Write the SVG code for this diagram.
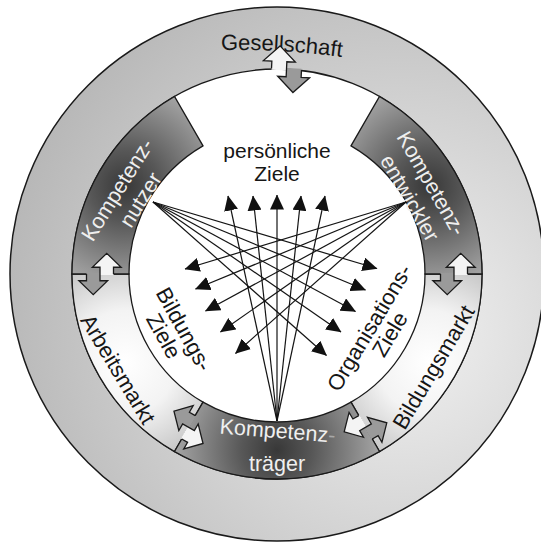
<svg xmlns="http://www.w3.org/2000/svg" width="541" height="545" viewBox="0 0 541 545">
<style>
.t{font-family:"Liberation Sans",Arial,Helvetica,sans-serif;font-size:22px;fill:#161616}
.w{font-family:"Liberation Sans",Arial,Helvetica,sans-serif;font-size:21.5px;fill:#efefef}
.ol{fill:none;stroke:#1a1a1a;stroke-width:1.3}
.lite{fill:#f4f4f4}
.dk{fill:#9a9a9a}
.link{fill:none;stroke:#141414;stroke-width:1.2;marker-end:url(#ah)}
</style>
<defs>
<radialGradient id="gOut" gradientUnits="userSpaceOnUse" cx="400" cy="330" r="400"><stop offset="0" stop-color="#f2f2f2"/><stop offset="1" stop-color="#b8b8b8"/></radialGradient>
<radialGradient id="gN" gradientUnits="userSpaceOnUse" cx="125" cy="186" r="100"><stop offset="0" stop-color="#383838"/><stop offset="0.35" stop-color="#575757"/><stop offset="1" stop-color="#a2a2a2"/></radialGradient>
<radialGradient id="gE" gradientUnits="userSpaceOnUse" cx="429" cy="186" r="100"><stop offset="0" stop-color="#383838"/><stop offset="0.35" stop-color="#575757"/><stop offset="1" stop-color="#a2a2a2"/></radialGradient>
<radialGradient id="gT" gradientUnits="userSpaceOnUse" cx="277" cy="450" r="100"><stop offset="0" stop-color="#383838"/><stop offset="0.35" stop-color="#575757"/><stop offset="1" stop-color="#a2a2a2"/></radialGradient>
<radialGradient id="gA" gradientUnits="userSpaceOnUse" cx="125" cy="362" r="115"><stop offset="0" stop-color="#ffffff"/><stop offset="0.45" stop-color="#f3f3f3"/><stop offset="1" stop-color="#bcbcbc"/></radialGradient>
<radialGradient id="gB" gradientUnits="userSpaceOnUse" cx="429" cy="362" r="115"><stop offset="0" stop-color="#ffffff"/><stop offset="0.45" stop-color="#f3f3f3"/><stop offset="1" stop-color="#bcbcbc"/></radialGradient>
<marker id="ah" markerUnits="userSpaceOnUse" markerWidth="15" markerHeight="14" viewBox="0 0 15 14" refX="14.5" refY="7" orient="auto"><path d="M0,0L15,7L0,14Z" fill="#111"/></marker>
<path id="xa" d="M-15,1.2V-7.5H-23.5L-7.5,-23L8.5,-7.5H0V1.2Z"/>
<path id="xb" d="M0,-1.2V7.5H-8.5L7.5,23L23.5,7.5H15V-1.2Z"/>
<path id="xo" vector-effect="non-scaling-stroke" d="M-15,0V-7.5H-23.5L-7.5,-23L8.5,-7.5H0V7.5H-8.5L7.5,23L23.5,7.5H15V0"/>
</defs>

<g id="gesellschaft">
<circle cx="277" cy="274" r="267" fill="url(#gOut)" stroke="#1a1a1a" stroke-width="1.5"/>
<path id="gesPath" d="M221,50 Q285,49 350,58" fill="none"/>
<text class="t"><textPath href="#gesPath">Gesellschaft</textPath></text>
</g>

<g id="inner-area">
<circle cx="277" cy="274" r="205" class="ol" style="fill:#ffffff"/>
</g>

<g id="arbeitsmarkt">
<path d="M72,274 A205,205 0 0 0 174.5,451.53 L203,402.17 A148,148 0 0 1 129,274 Z" class="ol" style="fill:url(#gA)"/>
<text class="t" transform="translate(117.5,369.5) rotate(59)" text-anchor="middle" y="7">Arbeitsmarkt</text>
</g>

<g id="bildungsmarkt">
<path d="M482,274 A205,205 0 0 1 379.5,451.53 L351,402.17 A148,148 0 0 0 425,274 Z" class="ol" style="fill:url(#gB)"/>
<text class="t" transform="translate(434,367.5) rotate(-59.5)" text-anchor="middle" y="7">Bildungsmarkt</text>
</g>

<g id="kompetenznutzer">
<path d="M174.5,96.47 A205,205 0 0 0 72,274 L129,274 A148,148 0 0 1 203,145.83 Z" class="ol" style="fill:url(#gN)"/>
<g transform="translate(117.5,190) rotate(-58)">
<text class="w" text-anchor="middle" y="7">Kompetenz-</text>
<text class="w" text-anchor="middle" x="4" y="32">nutzer</text>
</g>
</g>

<g id="kompetenzentwickler">
<path d="M379.5,96.47 A205,205 0 0 1 482,274 L425,274 A148,148 0 0 0 351,145.83 Z" class="ol" style="fill:url(#gE)"/>
<g transform="translate(431,183.5) rotate(60)">
<text class="w" text-anchor="middle" y="7">Kompetenz-</text>
<text class="w" text-anchor="middle" x="2" y="33">entwickler</text>
</g>
</g>

<g id="kompetenztraeger">
<path d="M174.5,451.53 A205,205 0 0 0 379.5,451.53 L351,402.17 A148,148 0 0 1 203,402.17 Z" class="ol" style="fill:url(#gT)"/>
<text class="w" text-anchor="middle" transform="rotate(4.5 277 438)" x="277" y="438">Kompetenz<tspan fill="#a8a8a8">-</tspan></text>
<text class="w" text-anchor="middle" x="277" y="471">träger</text>
</g>

<g id="exchange">
<g transform="translate(286.5,69.22) rotate(2.66)"><use href="#xa" class="lite"/><use href="#xb" class="dk"/><use href="#xo" class="ol"/></g>
<g transform="matrix(-1,0,0,1,100,274) scale(0.9)"><use href="#xa" class="lite"/><use href="#xb" class="dk"/><use href="#xo" class="ol"/></g>
<g transform="matrix(1,0,0,-1,454,274) scale(0.9)"><use href="#xa" class="dk"/><use href="#xb" class="lite"/><use href="#xo" class="ol"/></g>
<g transform="matrix(-0.5,0.866,0.866,0.5,188.5,427.29) scale(0.9)"><use href="#xa" class="dk"/><use href="#xb" class="lite"/><use href="#xo" class="ol"/></g>
<g transform="matrix(0.5,0.866,0.866,-0.5,365.5,427.29) scale(0.9)"><use href="#xa" class="lite"/><use href="#xb" class="dk"/><use href="#xo" class="ol"/></g>
</g>

<g id="persoenliche-ziele">
<text class="t" text-anchor="middle" x="277" y="158" style="font-size:21px">persönliche</text>
<text class="t" text-anchor="middle" x="277" y="181" style="font-size:21px">Ziele</text>
</g>

<g id="bildungs-ziele">
<g transform="translate(183.5,329.5) rotate(61)">
<text class="t" text-anchor="middle" y="7">Bildungs-</text>
<text class="t" text-anchor="middle" x="-4" y="28">Ziele</text>
</g>
</g>

<g id="organisations-ziele">
<g transform="translate(369.8,328) rotate(-59)">
<text class="t" text-anchor="middle" y="7">Organisations-</text>
<text class="t" text-anchor="middle" x="5" y="28">Ziele</text>
</g>
</g>

<g id="connectors">
<line class="link" x1="277" y1="421" x2="228" y2="196"/>
<line class="link" x1="277" y1="421" x2="253" y2="196"/>
<line class="link" x1="277" y1="421" x2="277" y2="195"/>
<line class="link" x1="277" y1="421" x2="301" y2="196"/>
<line class="link" x1="277" y1="421" x2="325" y2="196"/>
<line class="link" x1="153" y1="202" x2="377" y2="268.5"/>
<line class="link" x1="153" y1="202" x2="365.5" y2="290"/>
<line class="link" x1="153" y1="202" x2="355.5" y2="311.5"/>
<line class="link" x1="153" y1="202" x2="341" y2="332"/>
<line class="link" x1="153" y1="202" x2="326.5" y2="355.5"/>
<line class="link" x1="406" y1="202" x2="185" y2="269"/>
<line class="link" x1="406" y1="202" x2="195.5" y2="289"/>
<line class="link" x1="406" y1="202" x2="205.5" y2="311"/>
<line class="link" x1="406" y1="202" x2="220.5" y2="332"/>
<line class="link" x1="406" y1="202" x2="235.5" y2="353.5"/>
</g>
</svg>
